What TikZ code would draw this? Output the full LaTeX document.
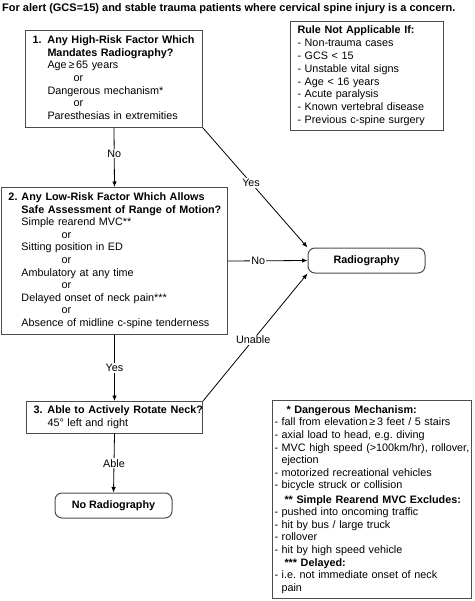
\documentclass[tikz,border=0pt]{standalone}
\usepackage{fontspec}
\setmainfont{Liberation Sans}
\usetikzlibrary{arrows.meta}
\frenchspacing
\def\bodyfont{\fontsize{10.8}{12.6}\selectfont}
\tikzset{
	qbox/.style={draw=black!70, line width=1pt, anchor=north west, align=left, inner xsep=0pt, inner ysep=0pt, font=\bodyfont},
	endbox/.style={draw=black!70, line width=1pt, rounded corners=7pt, inner sep=0pt, minimum width=117pt, minimum height=25pt, font=\bodyfont\bfseries},
	flow/.style={line width=0.8pt, -{Latex[length=5.5pt,width=4.5pt]}},
	lbl/.style={fill=white, inner sep=1pt, font=\bodyfont}
}

\begin{document}
\begin{tikzpicture}[x=1pt, y=-1pt]
			%%%%% START %%%%%
			\useasboundingbox (0,0) rectangle (474,601);
			
			\node[anchor=base west, inner sep=0pt, font=\fontsize{11}{13}\selectfont\bfseries] (title) at (2,11.5) {For alert (GCS=15) and stable trauma patients where cervical spine injury is a concern.};
			
			% question boxes
			\node[qbox, text width=177pt, minimum height=97pt] (high) at (25,30) {\begin{tabular}{@{\hspace{7pt}}p{15pt}@{}l@{}}
				\textbf{1.} & \textbf{Any High-Risk Factor Which}\\
				& \textbf{Mandates Radiography?}\\
				& Age\,≥\,65 years\\
				& \hspace*{26pt}or\\
				& Dangerous mechanism*\\
				& \hspace*{26pt}or\\
				& Paresthesias in extremities
			\end{tabular}};
			
			\node[qbox, text width=226pt, minimum height=147pt] (low) at (1,187) {\begin{tabular}{@{\hspace{7pt}}p{13pt}@{}l@{}}
				\textbf{2.} & \textbf{Any Low-Risk Factor Which Allows}\\
				& \textbf{Safe Assessment of Range of Motion?}\\
				& Simple rearend MVC**\\
				& \hspace*{40pt}or\\
				& Sitting position in ED\\
				& \hspace*{40pt}or\\
				& Ambulatory at any time\\
				& \hspace*{40pt}or\\
				& Delayed onset of neck pain***\\
				& \hspace*{40pt}or\\
				& Absence of midline c-spine tenderness
			\end{tabular}};
			
			\node[qbox, text width=176pt, minimum height=32pt] (rotate) at (26,401) {\begin{tabular}{@{\hspace{7pt}}p{14pt}@{}l@{}}
				\textbf{3.} & \textbf{Able to Actively Rotate Neck?}\\
				& 45° left and right
			\end{tabular}};
			
			% end boxes
			\node[endbox] (rad) at (366.5,260.5) {Radiography};
			\node[endbox] (norad) at (113.5,505.5) {No Radiography};
			
			% side notes
			\node[qbox, inner xsep=7pt, text width=139pt, minimum height=109pt, font=\fontsize{10.8}{12.8}\selectfont] (rules) at (290,21) {\textbf{Rule Not Applicable If:}\\
				- Non-trauma cases\\
				- GCS < 15\\
				- Unstable vital signs\\
				- Age < 16 years\\
				- Acute paralysis\\
				- Known vertebral disease\\
				- Previous c-spine surgery};
			
			\node[qbox, inner xsep=2pt, text width=195pt, minimum height=198pt] (notes) at (272,400) {\hspace*{12pt}\textbf{* Dangerous Mechanism:}\\
				- fall from elevation\,≥\,3 feet / 5 stairs\\
				- axial load to head, e.g. diving\\
				- MVC high speed (>100km/hr), rollover,\\
				\hspace*{7pt}ejection\\
				- motorized recreational vehicles\\
				- bicycle struck or collision\\[1.5pt]
				\hspace*{10pt}\textbf{** Simple Rearend MVC Excludes:}\\
				- pushed into oncoming traffic\\
				- hit by bus / large truck\\
				- rollover\\
				- hit by high speed vehicle\\
				\hspace*{10pt}\textbf{*** Delayed:}\\
				- i.e. not immediate onset of neck\\
				\hspace*{7pt}pain};
			
			% connectors
			\draw[flow] (high.south) -- node[lbl, pos=0.43] {No} (low.north);
			\draw[flow] (high.south east) -- node[lbl, pos=0.46] {Yes} (rad.north west);
			\draw[flow] (low.east) -- node[lbl, pos=0.38] {No} (rad.west);
			\draw[flow] (low.south) -- node[lbl] {Yes} (rotate.north);
			\draw[flow] (rotate.north east) -- node[lbl, pos=0.48] {Unable} (rad.south west);
			\draw[flow] (rotate.south) -- node[lbl] {Able} (norad.north);
			
			%%%%% END %%%%%
\end{tikzpicture}
\end{document}
